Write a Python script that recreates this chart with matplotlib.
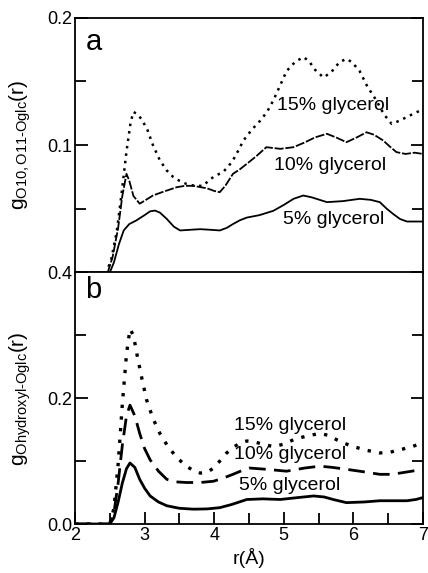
import matplotlib
matplotlib.use("Agg")
import matplotlib.pyplot as plt
from matplotlib.ticker import MultipleLocator

plt.rcParams['font.family'] = ['Liberation Sans', 'DejaVu Sans']
plt.rcParams['mathtext.fontset'] = 'custom'
plt.rcParams['mathtext.rm'] = 'Liberation Sans'
plt.rcParams['mathtext.it'] = 'Liberation Sans:italic'
plt.rcParams['mathtext.bf'] = 'Liberation Sans:bold'

# panel a: O10,O11 - Oglc
r_a15 = [2.0, 2.45, 2.52, 2.60, 2.67, 2.74, 2.80, 2.84, 2.90, 2.96, 3.04, 3.12, 3.22, 3.32, 3.41,
         3.50, 3.60, 3.72, 3.84, 3.92, 3.99, 4.06, 4.13, 4.20, 4.27, 4.35, 4.42, 4.54, 4.66, 4.76,
         4.85, 4.95, 5.04, 5.16, 5.28, 5.36, 5.45, 5.57, 5.68, 5.80, 5.90, 5.98, 6.09, 6.20, 6.33,
         6.44, 6.55, 6.66, 6.77, 6.88, 7.0]
g_a15 = [0.0, 0.0, 0.010, 0.032, 0.062, 0.095, 0.118, 0.126, 0.124, 0.120, 0.112, 0.100, 0.088, 0.080, 0.075,
         0.072, 0.0695, 0.068, 0.068, 0.072, 0.075, 0.077, 0.079, 0.083, 0.088, 0.096, 0.1035, 0.112, 0.119, 0.126,
         0.135, 0.147, 0.158, 0.165, 0.169, 0.166, 0.159, 0.153, 0.157, 0.165, 0.1676, 0.165, 0.158, 0.146, 0.135,
         0.124, 0.1166, 0.119, 0.122, 0.125, 0.128]

r_a10 = [2.0, 2.47, 2.54, 2.62, 2.68, 2.74, 2.78, 2.84, 2.93, 3.02, 3.12, 3.25, 3.46, 3.58, 3.70,
         3.80, 3.90, 4.00, 4.08, 4.16, 4.27, 4.37, 4.47, 4.60, 4.75, 4.95, 5.14, 5.30, 5.45, 5.62,
         5.75, 5.90, 6.05, 6.19, 6.30, 6.43, 6.52, 6.62, 6.75, 6.88, 7.0]
g_a10 = [0.0, 0.0, 0.012, 0.035, 0.060, 0.0774, 0.072, 0.060, 0.054, 0.057, 0.0604, 0.063, 0.0669, 0.068, 0.068,
         0.067, 0.066, 0.064, 0.063, 0.068, 0.0774, 0.081, 0.0853, 0.091, 0.0983, 0.097, 0.0983, 0.102, 0.106, 0.1088,
         0.106, 0.1022, 0.106, 0.110, 0.108, 0.1035, 0.099, 0.0944, 0.093, 0.094, 0.093]

r_a5 = [2.0, 2.5, 2.56, 2.63, 2.70, 2.78, 2.88, 3.00, 3.08, 3.15, 3.22, 3.32, 3.42, 3.51, 3.65,
        3.80, 3.95, 4.08, 4.18, 4.27, 4.37, 4.47, 4.65, 4.85, 5.00, 5.14, 5.28, 5.40, 5.62, 5.85,
        6.09, 6.25, 6.38, 6.48, 6.57, 6.67, 6.77, 7.0]
g_a5 = [0.0, 0.0, 0.008, 0.022, 0.033, 0.038, 0.0408, 0.045, 0.048, 0.0486, 0.047, 0.042, 0.036, 0.033, 0.0335,
        0.034, 0.0335, 0.033, 0.035, 0.038, 0.041, 0.0431, 0.045, 0.0484, 0.053, 0.0578, 0.0604, 0.059, 0.0552, 0.056,
        0.0578, 0.057, 0.0552, 0.050, 0.046, 0.042, 0.040, 0.040]

# panel b: hydroxyl - Oglc
r_b15 = [2.0, 2.5, 2.56, 2.62, 2.68, 2.74, 2.79, 2.84, 2.89, 2.96, 3.03, 3.12, 3.22, 3.32, 3.41,
         3.50, 3.60, 3.70, 3.80, 3.90, 3.99, 4.08, 4.18, 4.28, 4.37, 4.47, 4.56, 4.70, 4.85, 5.00,
         5.14, 5.33, 5.52, 5.64, 5.76, 5.88, 6.00, 6.20, 6.38, 6.52, 6.67, 6.84, 7.0]
g_b15 = [0.0, 0.0, 0.025, 0.095, 0.19, 0.27, 0.31, 0.300, 0.27, 0.232, 0.197, 0.168, 0.144, 0.126, 0.113,
         0.102, 0.092, 0.085, 0.081, 0.082, 0.089, 0.100, 0.113, 0.122, 0.129, 0.132, 0.131, 0.127, 0.123, 0.127,
         0.134, 0.140, 0.144, 0.141, 0.134, 0.128, 0.123, 0.117, 0.113, 0.114, 0.118, 0.123, 0.129]

r_b10 = [2.0, 2.5, 2.56, 2.62, 2.68, 2.74, 2.79, 2.86, 2.93, 3.00, 3.08, 3.20, 3.32, 3.45, 3.60,
         3.80, 3.99, 4.13, 4.27, 4.40, 4.51, 4.75, 5.04, 5.30, 5.52, 5.70, 5.90, 6.15, 6.38, 6.55,
         6.67, 6.84, 7.0]
g_b10 = [0.0, 0.0, 0.018, 0.065, 0.125, 0.172, 0.189, 0.172, 0.144, 0.120, 0.102, 0.084, 0.071, 0.067, 0.066,
         0.066, 0.068, 0.073, 0.079, 0.085, 0.089, 0.087, 0.084, 0.089, 0.092, 0.090, 0.087, 0.083, 0.079, 0.079,
         0.081, 0.084, 0.087]

r_b5 = [2.0, 2.5, 2.56, 2.62, 2.68, 2.74, 2.79, 2.86, 2.93, 3.00, 3.08, 3.20, 3.32, 3.50, 3.70,
        3.90, 4.08, 4.25, 4.47, 4.70, 4.95, 5.20, 5.43, 5.58, 5.71, 5.90, 6.15, 6.38, 6.60, 6.77,
        6.90, 7.0]
g_b5 = [0.0, 0.0, 0.010, 0.035, 0.065, 0.088, 0.097, 0.090, 0.071, 0.057, 0.0446, 0.035, 0.029, 0.025, 0.0236,
        0.024, 0.026, 0.031, 0.039, 0.040, 0.039, 0.042, 0.0446, 0.043, 0.039, 0.034, 0.035, 0.037, 0.037, 0.037,
        0.039, 0.042]

labels = ["15% glycerol", "10% glycerol", "5% glycerol"]
label_pos_a = [(5.71, 0.131), (5.66, 0.084), (5.71, 0.0416)]
label_pos_b = [(5.09, 0.157), (5.09, 0.110), (5.09, 0.061)]

fig = plt.figure(figsize=(4.28, 5.73), dpi=100)
ax1 = fig.add_axes([0.1752, 0.5244, 0.813, 0.445])
ax2 = fig.add_axes([0.1752, 0.0855, 0.813, 0.439])

ax1.plot(r_a15, g_a15, color='black', linestyle=(0, (1, 2)), lw=1.8)
ax1.plot(r_a10, g_a10, color='black', linestyle=(0, (5, 1)), lw=1.3)
ax1.plot(r_a5, g_a5, color='black', linestyle='-', lw=1.3)

ax2.plot(r_b15, g_b15, color='black', linestyle=(0, (1, 2.5)), lw=2.4)
ax2.plot(r_b10, g_b10, color='black', linestyle=(0, (6, 3)), lw=2.0)
ax2.plot(r_b5, g_b5, color='black', linestyle='-', lw=2.0)

for (x, y), t in zip(label_pos_a, labels):
    ax1.text(x, y, t, fontsize=14, ha='center', va='center')
for (x, y), t in zip(label_pos_b, labels):
    ax2.text(x, y, t, fontsize=14, ha='center', va='center')

ax1.set_xlim(2, 7)
ax1.set_ylim(0, 0.2)
ax1.set_yticks([0.1, 0.2])
ax1.set_yticklabels(["0.1", "0.2"])
ax1.set_yticks([0.05, 0.15], minor=True)
ax1.set_xticks([])
ax1.text(0.03, 0.96, "a", transform=ax1.transAxes, fontsize=21, va='top', ha='left')

ax2.set_xlim(2, 7)
ax2.set_ylim(0, 0.4)
ax2.set_yticks([0.0, 0.2, 0.4])
ax2.set_yticklabels(["0.0", "0.2", "0.4"])
ax2.set_yticks([0.1, 0.3], minor=True)
ax2.xaxis.set_major_locator(MultipleLocator(1))
ax2.xaxis.set_minor_locator(MultipleLocator(0.5))
ax2.text(0.03, 0.985, "b", transform=ax2.transAxes, fontsize=21, va='top', ha='left')

for ax in (ax1, ax2):
    ax.tick_params(which='both', direction='in', left=True, right=True, top=False,
                   labelsize=13, pad=2, color='black')
    ax.tick_params(which='major', length=9, width=1.3)
    ax.tick_params(which='minor', length=8, width=1.3)
    for s in ax.spines.values():
        s.set_linewidth(1.3)

ax1.set_ylabel(r'g$_{\mathrm{O10,O11\text{-}Oglc}}$(r)', fontsize=15)
ax2.set_ylabel(r'g$_{\mathrm{Ohydroxyl\text{-}Oglc}}$(r)', fontsize=15)
ax1.yaxis.set_label_coords(-0.12, 0.5)
ax2.yaxis.set_label_coords(-0.12, 0.5)
ax2.set_xlabel("r(Å)", fontsize=14, labelpad=3)

fig.savefig("out.png", dpi=100)
